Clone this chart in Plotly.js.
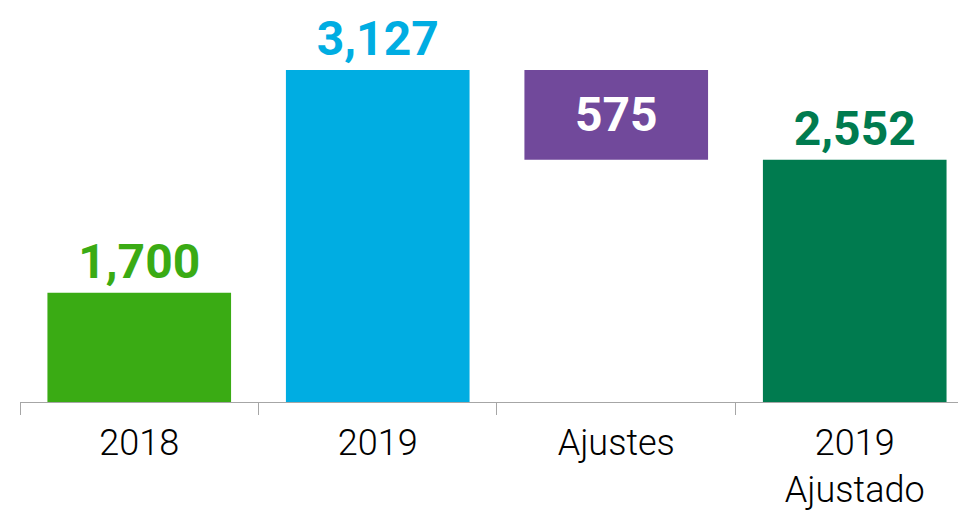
<!DOCTYPE html>
<html>
<head>
<meta charset="utf-8">
<script src="https://cdn.plot.ly/plotly-3.0.1.min.js"></script>
<style>html,body{margin:0;padding:0;background:#fff;}#chart{width:958px;height:515px;}</style>
</head>
<body>
<div id="chart"></div>
<script>
const categories = ["2018", "2019", "Ajustes", "2019<br>Ajustado"];
const values = [1700, 3127, 575, 2552];
const bases = [0, 0, 2552, 0];
const labels = ["1,700", "3,127", "575", "2,552"];
const colors = ["#3aab14", "#00ade2", "#71499b", "#007b4f"];
const labelColors = ["#3aab14", "#00ade2", "#ffffff", "#007b4f"];
const labelPositions = ["outside", "outside", "inside", "outside"];

const labelFont = {family: "Roboto, 'Open Sans', sans-serif", size: 48, weight: 700, color: labelColors};

const trace = {
  type: "bar",
  x: categories,
  y: values,
  base: bases,
  marker: {color: colors, line: {width: 0}},
  text: labels,
  textposition: labelPositions,
  insidetextanchor: "middle",
  textangle: 0,
  cliponaxis: false,
  textfont: labelFont,
  outsidetextfont: labelFont,
  insidetextfont: labelFont,
  width: 0.77,
  hoverinfo: "none"
};

const layout = {
  width: 958,
  height: 515,
  margin: {l: 20, r: 0, t: 0, b: 113, pad: 0},
  paper_bgcolor: "#ffffff",
  plot_bgcolor: "#ffffff",
  showlegend: false,
  xaxis: {
    type: "category",
    range: [-0.5, 3.433],
    showline: true,
    linecolor: "#a6a6a6",
    linewidth: 1,
    ticks: "outside",
    tickson: "boundaries",
    ticklen: 12,
    tickcolor: "#a6a6a6",
    tickwidth: 1,
    ticklabelstandoff: 9,
    showgrid: false,
    zeroline: false,
    tickfont: {family: "Roboto, 'Open Sans', sans-serif", size: 36, weight: 300, color: "#000000"}
  },
  yaxis: {
    range: [1000, 3576],
    visible: false,
    showgrid: false,
    zeroline: false
  }
};

Plotly.newPlot("chart", [trace], layout, {staticPlot: true, displayModeBar: false});
</script>
</body>
</html>
